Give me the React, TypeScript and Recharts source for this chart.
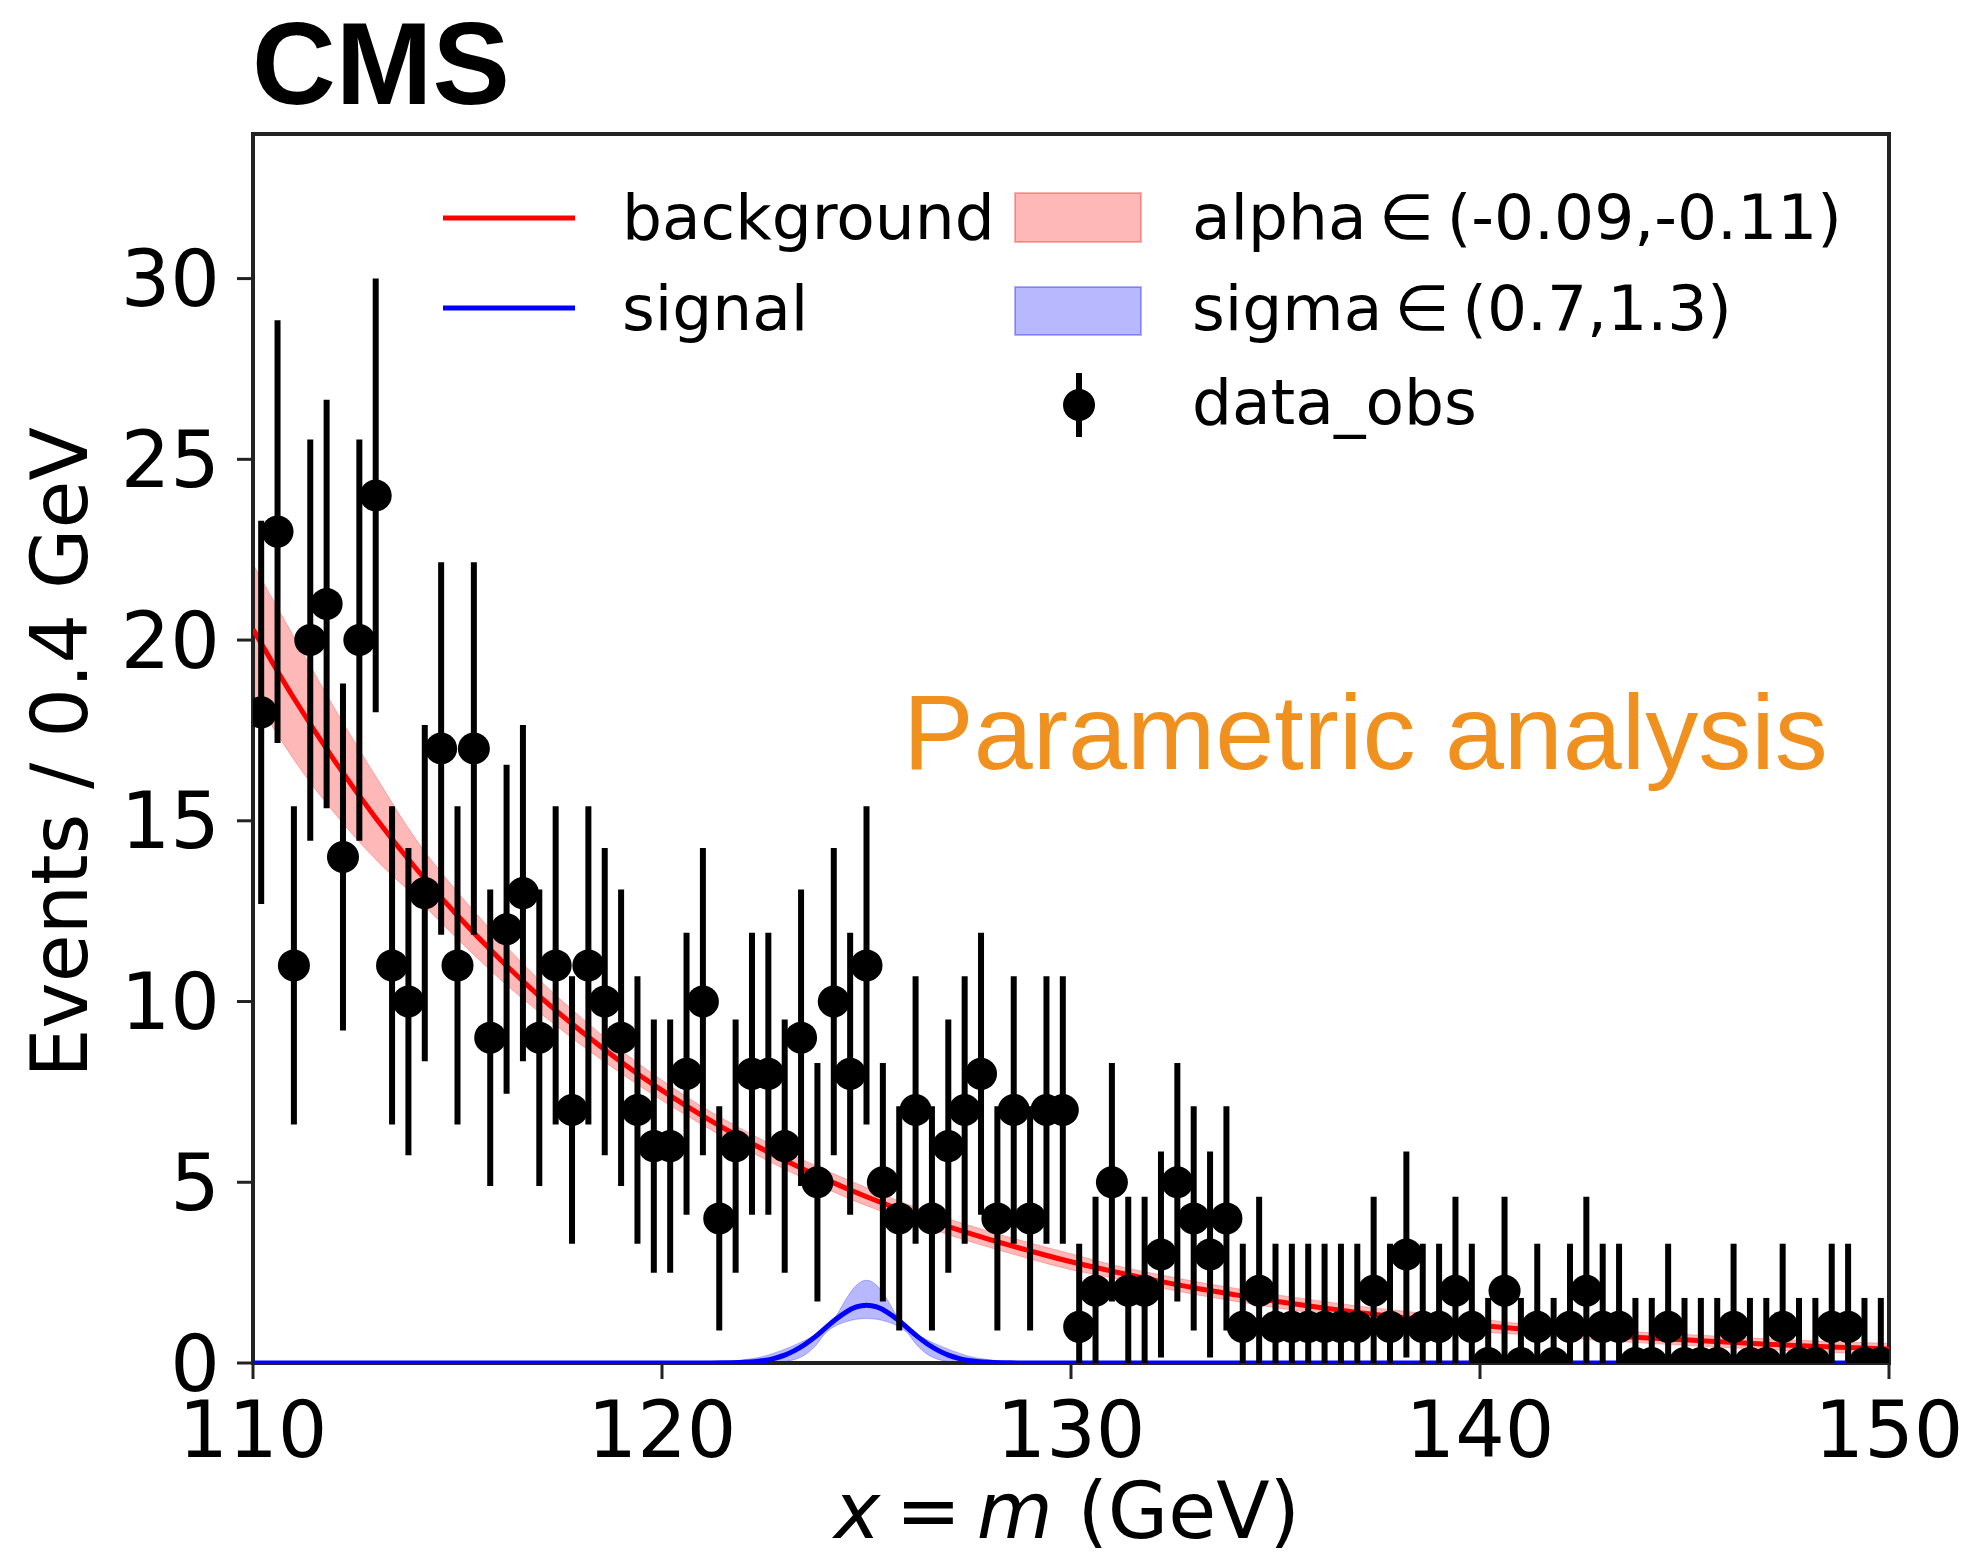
import React from "react"
import {
  ComposedChart,
  XAxis,
  YAxis,
  Scatter,
  ErrorBar,
  Line,
  Area,
  ReferenceArea,
  Legend,
  Label,
} from "recharts"

const W = 1967
const H = 1559
const FONT = "DejaVu Sans"

// observed events per 0.4 GeV bin, 110 -> 150 GeV
const BIN_START = 110
const BIN_WIDTH = 0.4
const counts = [
  18, 23, 11, 20, 21, 14, 20, 24, 11, 10,
  13, 17, 11, 17, 9, 12, 13, 9, 11, 7,
  11, 10, 9, 7, 6, 6, 8, 10, 4, 6,
  8, 8, 6, 9, 5, 10, 8, 11, 5, 4,
  7, 4, 6, 7, 8, 4, 7, 4, 7, 7,
  1, 2, 5, 2, 2, 3, 5, 4, 3, 4,
  1, 2, 1, 1, 1, 1, 1, 1, 2, 1,
  3, 1, 1, 2, 1, 0, 2, 0, 1, 0,
  1, 2, 1, 1, 0, 0, 1, 0, 0, 0,
  1, 0, 0, 1, 0, 0, 1, 1, 0, 0,
]
// error bar half length, indexed by count
const errorByCount = [
  1.8, 2.3, 2.6, 2.85, 3.1, 3.3, 3.5, 3.7, 3.9, 4.1,
  4.25, 4.4, 4.55, 4.65, 4.8, 4.95, 5.05, 5.15, 5.3, 5.45,
  5.55, 5.65, 5.75, 5.85, 6.0,
]

// background fit (red) and its alpha band
const bgMass = [
  110, 111, 112, 113, 114, 115, 116, 117, 118, 119,
  120, 121, 122, 123, 124, 125, 126, 127, 128, 129,
  130, 131, 132, 133, 134, 135, 136, 137, 138, 139,
  140, 141, 142, 143, 144, 145, 146, 147, 148, 149, 150,
]
const bgFit = [
  20.3, 18.39, 16.65, 15.08, 13.66, 12.38, 11.21, 10.15, 9.2, 8.33,
  7.54, 6.83, 6.19, 5.61, 5.08, 4.6, 4.17, 3.77, 3.42, 3.1,
  2.8, 2.54, 2.3, 2.08, 1.89, 1.71, 1.55, 1.4, 1.27, 1.15,
  1.04, 0.94, 0.86, 0.77, 0.7, 0.64, 0.58, 0.52, 0.47, 0.43, 0.39,
]
const bgBandHalf = [
  1.8, 1.7, 1.45, 1.15, 0.8, 0.65, 0.55, 0.45, 0.38, 0.32,
  0.28, 0.25, 0.25, 0.25, 0.25, 0.25, 0.22, 0.22, 0.22, 0.22,
  0.22, 0.18, 0.18, 0.18, 0.18, 0.18, 0.18, 0.18, 0.18, 0.18,
  0.18, 0.15, 0.15, 0.15, 0.15, 0.15, 0.15, 0.15, 0.15, 0.15, 0.15,
]

// signal (blue) and its sigma band
const sigMass = [
  110, 121, 121.5, 122, 122.25, 122.5, 122.75, 123, 123.25, 123.5,
  123.75, 124, 124.25, 124.5, 124.75, 125, 125.25, 125.5, 125.75, 126,
  126.25, 126.5, 126.75, 127, 127.25, 127.5, 127.75, 128, 128.5, 129, 150,
]
const sigFit = [
  0, 0, 0.004, 0.018, 0.036, 0.07, 0.13, 0.22, 0.35, 0.52,
  0.73, 0.97, 1.21, 1.41, 1.55, 1.6, 1.55, 1.41, 1.21, 0.97,
  0.73, 0.52, 0.35, 0.22, 0.13, 0.07, 0.036, 0.018, 0.004, 0, 0,
]
const sigBandLow = [
  0, 0, 0, 0, 0, 0, 0.01, 0.04, 0.1, 0.23,
  0.47, 0.83, 1.03, 1.14, 1.21, 1.23, 1.21, 1.14, 1.03, 0.83,
  0.47, 0.23, 0.1, 0.04, 0.01, 0, 0, 0, 0, 0, 0,
]
const sigBandHigh = [
  0, 0.01, 0.03, 0.09, 0.13, 0.19, 0.28, 0.38, 0.5, 0.63,
  0.78, 0.97, 1.29, 1.77, 2.15, 2.29, 2.15, 1.77, 1.29, 0.97,
  0.78, 0.63, 0.5, 0.38, 0.28, 0.19, 0.13, 0.09, 0.03, 0.01, 0,
]

const xTicks = [110, 120, 130, 140, 150]
const yTicks = [0, 5, 10, 15, 20, 25, 30]

const dataObs = counts.map((n, i) => ({
  x: BIN_START + BIN_WIDTH * (i + 0.5),
  y: n,
  err: [Math.min(errorByCount[n], n), errorByCount[n]],
}))

const bgData = bgMass.map((x, i) => ({
  x,
  fit: bgFit[i],
  band: [bgFit[i] - bgBandHalf[i], bgFit[i] + bgBandHalf[i]],
}))

const sigData = sigMass.map((x, i) => ({
  x,
  fit: sigFit[i],
  band: [sigBandLow[i], sigBandHigh[i]],
}))

const DataDot = (props: any) => <circle cx={props.cx} cy={props.cy} r={16} fill="#000" />

const XTitle = (props: any) => {
  const vb = props.viewBox ?? { x: 253, y: 1363, width: 1636, height: 196 }
  return (
    <text x={vb.x + vb.width / 2 - 4} y={vb.y + 175} textAnchor="middle" fontFamily={FONT} fontSize={78} fill="#000">
      <tspan fontStyle="italic">x</tspan>
      <tspan>{"\u2009=\u2009"}</tspan>
      <tspan fontStyle="italic">m</tspan>
      <tspan>{" (GeV)"}</tspan>
    </text>
  )
}

const YTitle = (props: any) => {
  const vb = props.viewBox ?? { x: 0, y: 134, width: 253, height: 1229 }
  const cx = vb.x + 87
  const cy = vb.y + vb.height / 2 + 4
  return (
    <text x={cx} y={cy} transform={`rotate(-90, ${cx}, ${cy})`} textAnchor="middle" fontFamily={FONT} fontSize={78} fill="#000">
      Events / 0.4 GeV
    </text>
  )
}

const LegendBox = () => (
  <svg width={W} height={480} style={{ display: "block" }}>
    <g fontFamily={FONT} fontSize={63} fill="#000">
      <line x1={443} x2={575} y1={218} y2={218} stroke="#ff0000" strokeWidth={5} />
      <text x={622} y={239}>background</text>
      <line x1={443} x2={575} y1={308} y2={308} stroke="#0000ff" strokeWidth={5} />
      <text x={622} y={330}>signal</text>

      <rect x={1015} y={193} width={126} height={49} fill="#ff0000" fillOpacity={0.28} stroke="#ff0000" strokeOpacity={0.3} strokeWidth={2} />
      <text x={1192} y={239}>{"alpha\u2009\u2208\u2009(-0.09,-0.11)"}</text>
      <rect x={1015} y={287} width={126} height={48} fill="#0000ff" fillOpacity={0.28} stroke="#0000ff" strokeOpacity={0.3} strokeWidth={2} />
      <text x={1192} y={330}>{"sigma\u2009\u2208\u2009(0.7,1.3)"}</text>
      <line x1={1079} x2={1079} y1={373} y2={437} stroke="#000" strokeWidth={6} />
      <circle cx={1079} cy={405} r={16} fill="#000" />
      <text x={1192} y={424}>data_obs</text>
    </g>
  </svg>
)

export default function App() {
  return (
    <div style={{ position: "absolute", left: 0, top: 0, width: W, height: H, background: "#fff", fontFamily: FONT }}>
      <ComposedChart width={W} height={H} margin={{ top: 134, right: 78, bottom: 0, left: 0 }}>
        <XAxis
          type="number"
          dataKey="x"
          domain={[110, 150]}
          ticks={xTicks}
          interval={0}
          allowDataOverflow
          height={196}
          axisLine={false}
          tickSize={16}
          tickMargin={23}
          tickLine={{ stroke: "#222", strokeWidth: 3 }}
          tick={{ fill: "#000", fontSize: 78, fontFamily: FONT }}
        >
          <Label content={XTitle} />
        </XAxis>
        <YAxis
          type="number"
          domain={[0, 34]}
          ticks={yTicks}
          interval={0}
          allowDataOverflow
          width={253}
          axisLine={false}
          tickSize={16}
          tickMargin={17}
          tickLine={{ stroke: "#222", strokeWidth: 3 }}
          tick={{ fill: "#000", fontSize: 78, fontFamily: FONT }}
        >
          <Label content={YTitle} />
        </YAxis>

        <Area
          data={bgData}
          dataKey="band"
          type="monotone"
          fill="#ff0000"
          fillOpacity={0.28}
          stroke="#ff0000"
          strokeOpacity={0.25}
          strokeWidth={1}
          dot={false}
          activeDot={false}
          isAnimationActive={false}
        />
        <Area
          data={sigData}
          dataKey="band"
          type="monotone"
          fill="#0000ff"
          fillOpacity={0.28}
          stroke="#0000ff"
          strokeOpacity={0.25}
          strokeWidth={1}
          dot={false}
          activeDot={false}
          isAnimationActive={false}
        />
        <Line data={bgData} dataKey="fit" type="monotone" stroke="#ff0000" strokeWidth={5} dot={false} activeDot={false} isAnimationActive={false} />
        <Line data={sigData} dataKey="fit" type="monotone" stroke="#0000ff" strokeWidth={5} dot={false} activeDot={false} isAnimationActive={false} />

        <Scatter data={dataObs} dataKey="y" shape={DataDot} isAnimationActive={false}>
          <ErrorBar dataKey="err" direction="y" width={0} stroke="#000" strokeWidth={6} isAnimationActive={false} />
        </Scatter>

        <ReferenceArea x1={110} x2={150} y1={0} y2={34} fill="none" stroke="#222" strokeWidth={4} ifOverflow="visible" />

        <Legend
          content={LegendBox}
          layout="horizontal"
          verticalAlign="middle"
          wrapperStyle={{ left: 0, top: 0, width: W, height: 480 }}
        />
      </ComposedChart>

      <svg width={W} height={H} style={{ position: "absolute", left: 0, top: 0, pointerEvents: "none" }}>
        <text x={252} y={104} fontFamily="Liberation Sans" fontWeight="bold" fontSize={116} fill="#000">
          CMS
        </text>
        <text x={903} y={769} fontFamily="Liberation Sans" fontSize={106} fill="#f0901f">
          Parametric analysis
        </text>
      </svg>
    </div>
  )
}
